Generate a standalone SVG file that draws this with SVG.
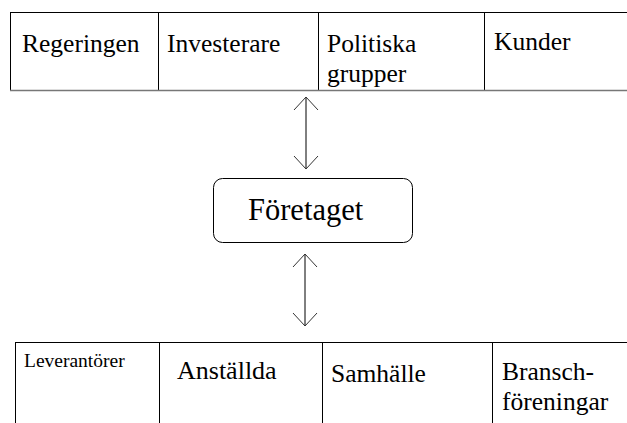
<svg xmlns="http://www.w3.org/2000/svg" width="627" height="423" viewBox="0 0 627 423">
<style>
.t{font-size:25.5px}
.cell{fill:#fff;stroke:#000;stroke-width:1}
.con{stroke:#000;stroke-width:1;fill:none}
</style>
<defs>
<marker id="ah" viewBox="0 0 14 26" refX="13" refY="13" markerWidth="14" markerHeight="26" markerUnits="userSpaceOnUse" orient="auto-start-reverse">
<path d="M0,1 L13,13 L0,25" fill="none" stroke="#333" stroke-width="1"/>
</marker>
</defs>
<rect width="627" height="423" fill="#fff"/>
<g font-family="'Liberation Serif', 'Times New Roman', serif" fill="#000">
<g id="top-table">
<g id="regeringen"><rect class="cell" x="10.5" y="12.5" width="148" height="78"/><text class="t" x="22" y="52">Regeringen</text></g>
<g id="investerare"><rect class="cell" x="158.5" y="12.5" width="160" height="78"/><text class="t" x="167" y="52">Investerare</text></g>
<g id="politiska"><rect class="cell" x="318.5" y="12.5" width="166" height="78"/><text class="t" x="327" y="52">Politiska</text><text class="t" x="327" y="82">grupper</text></g>
<g id="kunder"><rect class="cell" x="484.5" y="12.5" width="160" height="78"/><text class="t" x="494" y="50">Kunder</text></g>
<line x1="10" y1="90.5" x2="627" y2="90.5" stroke="#777" stroke-width="1.5"/>
</g>
<g id="foretaget"><rect x="213.5" y="178.5" width="199" height="64" rx="9" fill="#fff" stroke="#000" stroke-width="1"/><text x="248" y="220" font-size="30.5">Företaget</text></g>
<g id="bottom-table">
<g id="leverantorer"><rect class="cell" x="15.5" y="342.5" width="144" height="90"/><text x="24" y="367" font-size="19.5">Leverantörer</text></g>
<g id="anstallda"><rect class="cell" x="159.5" y="342.5" width="163" height="90"/><text x="177" y="379" font-size="26">Anställda</text></g>
<g id="samhalle"><rect class="cell" x="322.5" y="342.5" width="170" height="90"/><text class="t" x="331" y="382">Samhälle</text></g>
<g id="bransch"><rect class="cell" x="492.5" y="342.5" width="150" height="90"/><text class="t" x="502" y="380">Bransch-</text><text class="t" x="502" y="410">föreningar</text></g>
</g>
</g>
<g id="connectors">
<line class="con" x1="306" y1="97" x2="306" y2="169" marker-start="url(#ah)" marker-end="url(#ah)"/>
<line class="con" x1="305" y1="254" x2="305" y2="326" marker-start="url(#ah)" marker-end="url(#ah)"/>
</g>
</svg>
